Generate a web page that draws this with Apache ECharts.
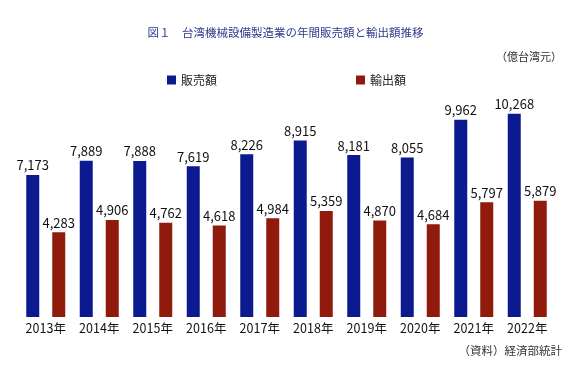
<!DOCTYPE html>
<html><head><meta charset="utf-8">
<script src="https://cdn.jsdelivr.net/npm/echarts@6/dist/echarts.min.js"></script>
<style>html,body{margin:0;padding:0;background:#fff;}#c{width:571px;height:368px;}</style>
</head><body><div id="c"></div>
<script>
const categories = ['2013年','2014年','2015年','2016年','2017年','2018年','2019年','2020年','2021年','2022年'];
const salesValues = [7173, 7889, 7888, 7619, 8226, 8915, 8181, 8055, 9962, 10268];
const exportValues = [4283, 4906, 4762, 4618, 4984, 5359, 4870, 4684, 5797, 5879];
const seriesNames = ['販売額', '輸出額'];
const FONT = '"Noto Sans CJK JP", "Noto Sans", sans-serif';
const chart = echarts.init(document.getElementById('c'));
const labelStyle = {show: true, position: 'top', distance: 3, color: '#111', fontSize: 13, fontFamily: FONT,
  formatter: p => p.value.toLocaleString('en-US')};
chart.setOption({
  animation: false,
  textStyle: {fontFamily: FONT},
  title: {text: '図１　台湾機械設備製造業の年間販売額と輸出額推移', left: 'center', top: 22,
    textStyle: {fontSize: 11.5, fontWeight: 'normal', color: '#2e3a8c', fontFamily: FONT}},
  legend: {data: seriesNames, left: 162, top: 69, itemWidth: 9, itemHeight: 9, itemGap: 139,
    icon: 'rect', textStyle: {fontSize: 12, color: '#222', fontFamily: FONT}},
  graphic: [
    {type: 'text', right: 9, top: 51, style: {text: '（億台湾元）', fontSize: 11, fill: '#333', fontFamily: FONT}},
    {type: 'text', right: 9, top: 345, style: {text: '（資料）経済部統計', fontSize: 11.5, fill: '#333', fontFamily: FONT}}
  ],
  grid: {left: 19, right: 17, top: 79.5, bottom: 51, containLabel: false},
  xAxis: {type: 'category', data: categories, axisLine: {show: false}, axisTick: {show: false},
    axisLabel: {color: '#111', fontSize: 12.5, margin: 5, fontFamily: FONT}},
  yAxis: {type: 'value', min: 0, max: 12000, show: false, splitLine: {show: false}},
  series: [
    {name: seriesNames[0], type: 'bar', data: salesValues, barWidth: 13, barGap: '100%',
      itemStyle: {color: '#0b1a8e'}, label: labelStyle},
    {name: seriesNames[1], type: 'bar', data: exportValues, barWidth: 13,
      itemStyle: {color: '#901a0c'}, label: labelStyle}
  ]
});
</script></body></html>
